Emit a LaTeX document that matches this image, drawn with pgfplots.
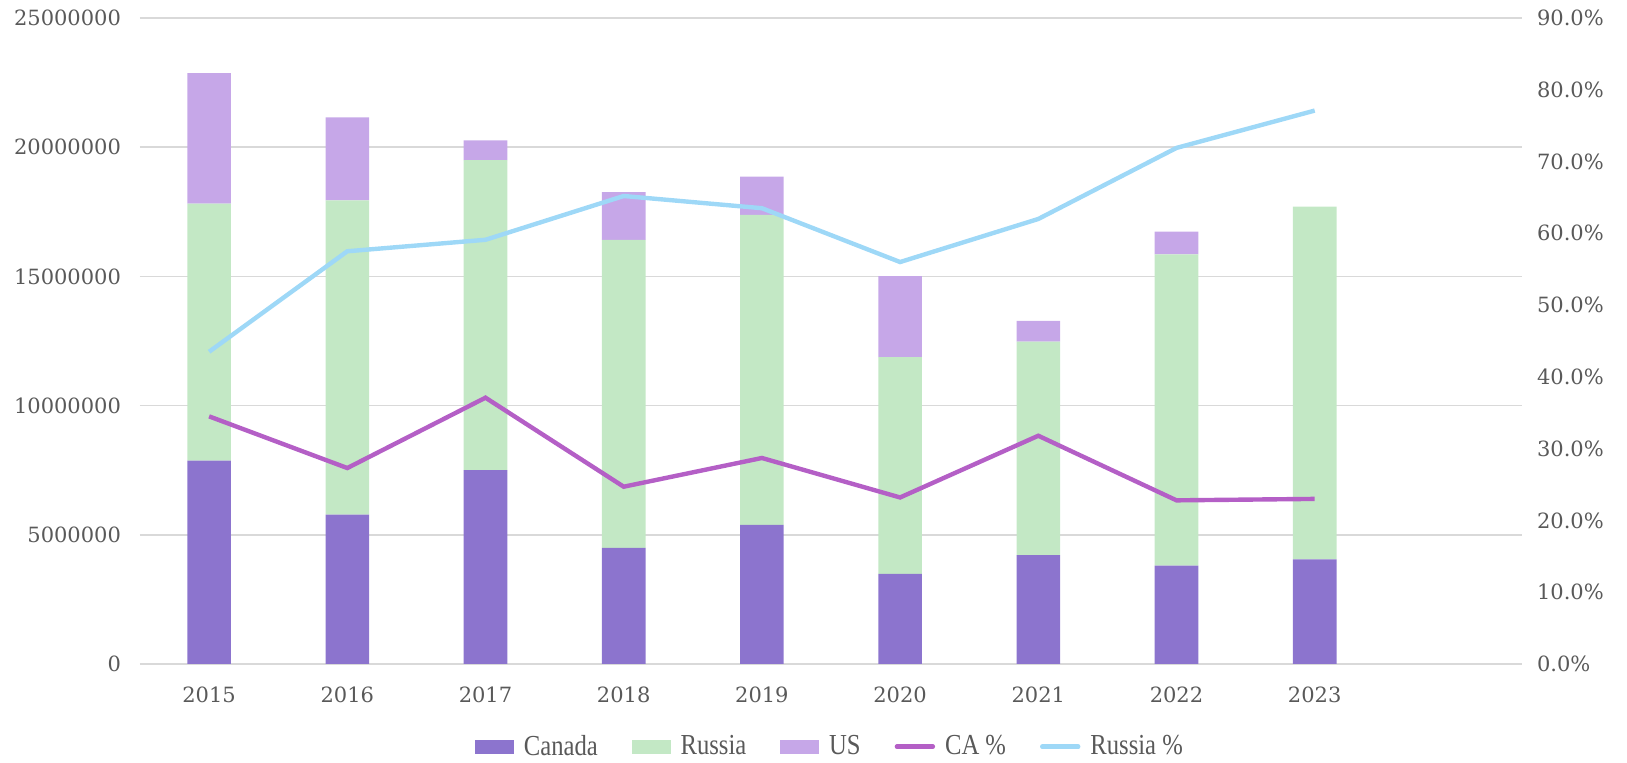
\documentclass[border=0pt]{standalone}
\usepackage{pgfplots}
\pgfplotsset{compat=1.18}
\usepackage{fontspec}
\setmainfont{DejaVu Serif}
\newfontfamily\legfont[FakeStretch=0.85]{Liberation Serif}
\usetikzlibrary{calc}
\definecolor{cCan}{HTML}{8C74CE}
\definecolor{cRus}{HTML}{C3E8C5}
\definecolor{cUS}{HTML}{C6A7E8}
\definecolor{cCAp}{HTML}{B45FC6}
\definecolor{cRUp}{HTML}{9ED8F7}
\definecolor{txt}{HTML}{595959}
\definecolor{grd}{HTML}{D9D9D9}
\pgfplotstableread{
x can rus us cap rup
0 7870000 9950000 5050000 34.5 43.5
1 5780000 12160000 3210000 27.3 57.5
2 7500000 12000000 760000 37.1 59.1
3 4490000 11920000 1850000 24.7 65.2
4 5380000 12000000 1480000 28.7 63.5
5 3490000 8390000 3130000 23.2 56.0
6 4210000 8270000 800000 31.8 62.0
7 3810000 12040000 880000 22.8 71.9
8 4050000 13650000 0 23.0 77.1
}\data
\begin{document}
\begin{tikzpicture}
\begin{axis}[
  name=ax,
  scale only axis, width=691pt, height=323pt,
  xmin=-0.5, xmax=9.5, ymin=0, ymax=25000000,
  ybar stacked, bar width=21.8pt,
  scaled y ticks=false,
  xtick={0,...,8}, xticklabels={2015,2016,2017,2018,2019,2020,2021,2022,2023},
  ytick={0,5000000,10000000,15000000,20000000,25000000},
  yticklabels={0,5000000,10000000,15000000,20000000,25000000},
  major tick length=0pt,
  ymajorgrids, grid style={grd, line width=0.8pt},
  axis x line*=bottom, axis y line*=left,
  x axis line style={grd, line width=0.8pt}, y axis line style={draw=none},
  every tick label/.style={font=\fontsize{10.5}{12}\selectfont, text=txt},
  xticklabel style={yshift=-8pt},
  yticklabel style={xshift=-6pt},
]
\addplot[fill=cCan, draw=none] table[x=x, y=can]{\data};
\addplot[fill=cRus, draw=none] table[x=x, y=rus]{\data};
\addplot[fill=cUS, draw=none] table[x=x, y=us]{\data};
\end{axis}
\begin{axis}[
  scale only axis, width=691pt, height=323pt,
  xmin=-0.5, xmax=9.5, ymin=0, ymax=90,
  axis y line*=right, axis x line=none,
  ytick={0,10,...,90},
  yticklabels={0.0\%,10.0\%,20.0\%,30.0\%,40.0\%,50.0\%,60.0\%,70.0\%,80.0\%,90.0\%},
  y axis line style={draw=none}, major tick length=0pt,
  every tick label/.style={font=\fontsize{10.5}{12}\selectfont, text=txt},
  yticklabel style={xshift=4pt},
  legend columns=5,
  legend style={at={(0.5,-0.128)}, anchor=center, draw=none, fill=none, inner sep=0pt,
    font=\legfont\fontsize{14.5}{16}\selectfont, text=txt,
    /tikz/every odd column/.append style={column sep=3pt},
    /tikz/every even column/.append style={column sep=15pt}},
  legend cell align=left,
]
\addlegendimage{legend image code/.code={\fill[cCan] (0pt,-3.2pt) rectangle (19pt,3.2pt);}}
\addlegendentry{Canada}
\addlegendimage{legend image code/.code={\fill[cRus] (0pt,-3.2pt) rectangle (19pt,3.2pt);}}
\addlegendentry{Russia}
\addlegendimage{legend image code/.code={\fill[cUS] (0pt,-3.2pt) rectangle (19pt,3.2pt);}}
\addlegendentry{US}
\addplot[cCAp, line width=2.2pt, mark=none,
  legend image code/.code={\draw[cCAp, line width=2.2pt, line cap=round] (1pt,0pt) -- (19pt,0pt);}] table[x=x, y=cap]{\data};
\addlegendentry{CA \%}
\addplot[cRUp, line width=2.2pt, mark=none,
  legend image code/.code={\draw[cRUp, line width=2.2pt, line cap=round] (1pt,0pt) -- (19pt,0pt);}] table[x=x, y=rup]{\data};
\addlegendentry{Russia \%}
\end{axis}
\path ($(ax.south west)+(-70pt,-48.5pt)$) rectangle ($(ax.north east)+(52.5pt,9pt)$);
\end{tikzpicture}
\end{document}
